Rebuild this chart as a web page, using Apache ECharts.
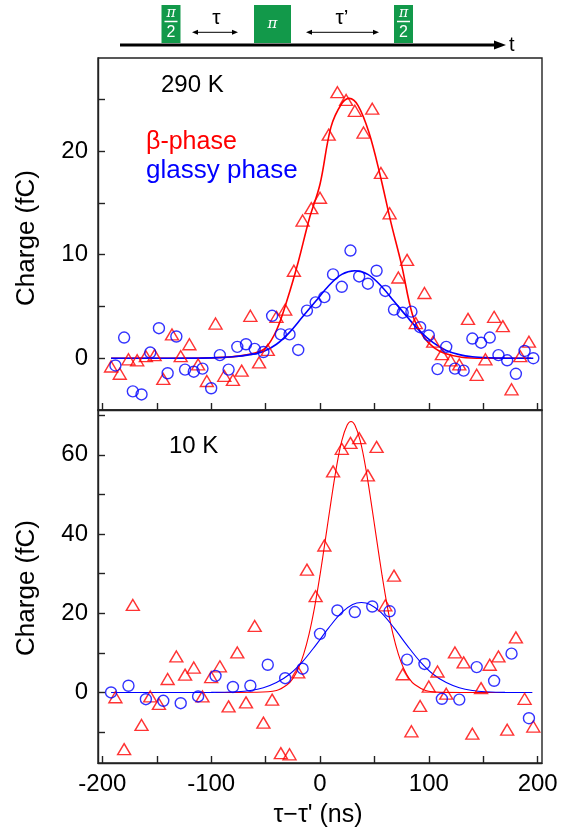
<!DOCTYPE html>
<html><head><meta charset="utf-8">
<script src="https://cdn.jsdelivr.net/npm/echarts@6/dist/echarts.min.js"></script>
<style>html,body{margin:0;padding:0;background:#fff}#c{width:568px;height:833px}</style>
</head><body><div id="c"></div>
<script>
const FONT = '"Liberation Sans", Arial, Helvetica, sans-serif';

// ---- data: 290 K panel ----
const topBetaX = [-192,-184,-176,-168,-160,-152,-144,-136,-128,-120,-112,-104,-96,-88,-80,-72,-64,-56,-48,-40,-32,-24,-16,-8,0,8,16,24,32,40,48,56,64,72,80,88,96,104,112,120,128,136,144,152,160,168,176,184,192];
const topBetaY = [-0.8,-1.5,-0.1,-0.2,0.2,0.3,-2.0,2.3,0.2,1.35,-0.6,-2.2,3.35,-1.7,-2.1,-1.2,4.1,-0.4,0.8,4.0,4.7,8.45,13.3,14.5,15.5,21.6,25.7,24.95,23.9,21.8,24.1,17.9,14.0,7.8,9.5,3.4,6.3,1.6,0.4,-0.2,-0.6,3.8,-1.6,-0.1,4.0,3.1,-3.0,0.2,1.6];
const topGlassyX = [-188,-180,-172,-164,-156,-148,-140,-132,-124,-116,-108,-100,-92,-84,-76,-68,-60,-52,-44,-36,-28,-20,-12,-4,4,12,20,28,36,44,52,60,68,76,84,92,100,108,116,124,132,140,148,156,164,172,180,188,196];
const topGlassyY = [-0.7,2.0,-3.2,-3.5,0.55,2.9,-1.45,2.1,-1.1,-1.3,-1.0,-2.9,0.3,-1.1,1.1,1.35,0.9,0.6,4.1,2.3,2.3,0.8,4.6,5.4,5.9,8.1,6.9,10.4,7.9,7.2,8.45,6.5,4.7,4.4,4.5,3.0,2.2,-1.05,1.1,-1.0,-1.2,1.9,1.5,2.0,0.3,-0.2,-1.5,0.7,0.0];
const topBetaFitX = [-192,-150,-110,-90,-75,-60,-50,-40,-30,-20,-10,0,10,20,27,35,45,55,65,75,85,95,105,115,130,150,194];
const topBetaFitY = [0,0,0.02,0.08,0.2,0.5,1.0,2.7,5.7,9.3,13.4,16.8,22.3,24.6,25.1,24.4,21.8,17.8,13.2,9.0,4.2,2.1,1.0,0.45,0.1,0,0];
const topGlassyFitX = [-192,-140,-100,-80,-64,-52,-40,-28,-16,-4,8,20,32,44,56,68,80,92,104,116,128,140,155,170,196];
const topGlassyFitY = [0,0,0.03,0.14,0.35,0.65,1.35,2.5,4.0,5.5,7.0,8.1,8.45,8.1,7.0,5.5,4.0,2.6,1.5,0.75,0.35,0.15,0.05,0.01,0];

// ---- data: 10 K panel ----
const botBetaX = [-188,-180,-172,-164,-156,-148,-140,-132,-124,-116,-108,-100,-92,-84,-76,-68,-60,-52,-44,-36,-28,-20,-12,-4,4,12,20,28,36,44,52,60,68,76,84,92,100,108,116,124,132,140,148,156,164,172,180,188,196];
const botBetaY = [-1.2,-14.3,22.1,-8.2,-1.0,-2.9,3.4,9.1,4.5,6.3,-1.0,3.9,6.6,-3.5,10.1,-2.5,16.8,-7.6,-1.8,-15.3,-15.6,5.05,31.0,24.3,37.1,55.8,61.5,63.0,64.2,54.8,62.0,22.0,29.5,4.6,-9.8,-3.4,1.5,5.3,-0.3,10.1,7.6,-10.4,1.1,7.0,9.1,-9.4,13.9,-1.6,-8.6];
const botGlassyX = [-192,-176,-160,-144,-128,-112,-96,-80,-64,-48,-32,-16,0,16,32,48,64,80,96,112,128,144,160,176,192];
const botGlassyY = [0,1.7,-1.7,-2.1,-2.7,-1.0,4.2,1.4,1.7,7.0,3.6,6.0,14.8,20.7,20.3,21.7,20.5,8.3,7.2,-1.6,-1.8,6.4,2.95,9.8,-6.5];
const botBetaFitX = [-96,-60,-40,-30,-25,-20,-15,-10,-5,0,5,10,15,20,25,28.5,32,37,42,47,52,57,62,67,72,77,82,87,97,107,130,195];
const botBetaFitY = [0,0.05,0.5,2.0,3.5,6.0,9.7,14.8,21.5,29.6,38.7,48.0,56.7,63.5,67.5,68.4,67.5,63.5,56.7,48.0,38.7,29.6,21.5,14.8,9.7,6.0,3.5,2.0,0.5,0.1,0,0];
const botGlassyFitX = [-192,-120,-100,-76,-64,-52,-40,-28,-16,-4,8,20,30,38,46,56,68,80,92,104,116,128,140,152,170,195];
const botGlassyFitY = [0,0,0.02,0.2,0.5,1.2,2.5,4.6,7.8,11.9,16.3,20.2,22.2,22.7,22.2,20.2,16.3,11.9,7.8,4.6,2.5,1.2,0.5,0.2,0.02,0];

// ---- axes ticks / labels ----
const xTicks = [-200,-150,-100,-50,0,50,100,150,200];
const xLabels = [-200,-100,0,100,200];
const topYTicks = [0,5,10,15,20,25];
const topYLabels = [0,10,20];
const botYTicks = [-10,0,10,20,30,40,50,60,70];
const botYLabels = [0,20,40,60];

const RED = '#ff0000', BLUE = '#0000ff', GREEN = '#12994a', AX = '#222';
const zip = (a, b) => a.map((v, i) => [v, b[i]]);

function xAxisCfg(gi, showLabel) {
  return {
    gridIndex: gi, type: 'value', min: -204, max: 204,
    axisLine: {show: true, onZero: false, lineStyle: {color: AX, width: 1.4}},
    axisTick: {show: true, inside: true, length: 7, customValues: xTicks, lineStyle: {color: AX, width: 1.4}},
    axisLabel: {show: showLabel, customValues: xLabels, fontSize: 24, fontFamily: FONT, color: '#000', margin: 9},
    splitLine: {show: false}
  };
}
function yAxisCfg(gi, mn, mx, ticks, labels) {
  return {
    gridIndex: gi, type: 'value', min: mn, max: mx,
    axisLine: {show: true, onZero: false, lineStyle: {color: AX, width: 1.4}},
    axisTick: {show: true, inside: true, length: 7, customValues: ticks, lineStyle: {color: AX, width: 1.4}},
    axisLabel: {show: true, customValues: labels, fontSize: 24, fontFamily: FONT, color: '#000', margin: 10},
    splitLine: {show: false}
  };
}
function scat(name, xi, data, sym, size, color) {
  return {name, type: 'scatter', xAxisIndex: xi, yAxisIndex: xi, data, symbol: sym, symbolSize: size, z: 5,
    itemStyle: {color: 'rgba(255,255,255,0)', borderColor: color, borderWidth: 1.4}};
}
function fit(name, xi, data, color, w) {
  return {name, type: 'line', xAxisIndex: xi, yAxisIndex: xi, data, showSymbol: false, smooth: 0.35, z: 3,
    lineStyle: {color, width: w}};
}

function txt(x, y, text, size, color, extra) {
  return {type: 'text', x, y, style: Object.assign({text, fontSize: size, fontFamily: FONT, fill: color, align: 'left', verticalAlign: 'middle'}, extra || {})};
}
function halfPulse(cx) {
  return [
    {type: 'rect', shape: {x: cx - 9.5, y: 5, width: 19, height: 38}, style: {fill: GREEN}},
    {type: 'text', x: cx, y: 13.5, style: {text: 'π', fontSize: 14, fontStyle: 'italic', fontFamily: '"DejaVu Serif", serif', fill: '#fff', align: 'center', verticalAlign: 'middle'}},
    {type: 'line', shape: {x1: cx - 6.5, y1: 21.5, x2: cx + 6.5, y2: 21.5}, style: {stroke: '#fff', lineWidth: 1.5}},
    {type: 'text', x: cx, y: 33, style: {text: '2', fontSize: 16, fontFamily: FONT, fill: '#fff', align: 'center', verticalAlign: 'middle'}}
  ];
}
function dblArrow(x1, x2, y) {
  return [
    {type: 'line', shape: {x1: x1 + 3, y1: y, x2: x2 - 3, y2: y}, style: {stroke: '#000', lineWidth: 1}},
    {type: 'polygon', shape: {points: [[x1, y], [x1 + 6, y - 2.5], [x1 + 6, y + 2.5]]}, style: {fill: '#000'}},
    {type: 'polygon', shape: {points: [[x2, y], [x2 - 6, y - 2.5], [x2 - 6, y + 2.5]]}, style: {fill: '#000'}}
  ];
}

const graphics = [].concat(
  [{type: 'line', shape: {x1: 120, y1: 45, x2: 497, y2: 45}, style: {stroke: '#000', lineWidth: 3}},
   {type: 'polygon', shape: {points: [[494, 40.5], [506, 45], [494, 49.5]]}, style: {fill: '#000'}},
   txt(509, 45, 't', 20, '#000')],
  halfPulse(171), halfPulse(403.5),
  [{type: 'rect', shape: {x: 254, y: 5, width: 37, height: 38}, style: {fill: GREEN}},
   {type: 'text', x: 272.5, y: 24, style: {text: 'π', fontSize: 15, fontStyle: 'italic', fontFamily: '"DejaVu Serif", serif', fill: '#fff', align: 'center', verticalAlign: 'middle'}}],
  dblArrow(192, 238, 32.3), dblArrow(306, 379, 32.3),
  [txt(216.5, 18, 'τ', 21, '#000', {align: 'center'}), txt(342, 18, 'τ’', 21, '#000', {align: 'center'})],
  [txt(161, 85, '290 K', 24, '#000'),
   txt(146, 142, 'β-phase', 25, RED),
   txt(146, 171, 'glassy phase', 26, BLUE),
   txt(169, 446, '10 K', 24, '#000'),
   {type: 'text', x: 27, y: 238, rotation: Math.PI / 2, style: {text: 'Charge (fC)', fontSize: 26, fontFamily: FONT, fill: '#000', align: 'center', verticalAlign: 'middle'}},
   {type: 'text', x: 27, y: 588, rotation: Math.PI / 2, style: {text: 'Charge (fC)', fontSize: 26, fontFamily: FONT, fill: '#000', align: 'center', verticalAlign: 'middle'}},
   txt(318, 815, 'τ−τ\' (ns)', 25, '#000', {align: 'center'})]
);

const chart = echarts.init(document.getElementById('c'), null, {renderer: 'canvas'});
chart.setOption({
  animation: false,
  backgroundColor: '#fff',
  grid: [
    {left: 98, top: 58, width: 444, height: 352, show: true, borderColor: AX, borderWidth: 1.4, backgroundColor: 'transparent'},
    {left: 98, top: 410, width: 444, height: 353, show: true, borderColor: AX, borderWidth: 1.4, backgroundColor: 'transparent'}
  ],
  xAxis: [xAxisCfg(0, false), xAxisCfg(1, true)],
  yAxis: [yAxisCfg(0, -5, 29, topYTicks, topYLabels), yAxisCfg(1, -17.8, 71.3, botYTicks, botYLabels)],
  series: [
    fit('β fit 290K', 0, zip(topBetaFitX, topBetaFitY), RED, 1.6),
    fit('glassy fit 290K', 0, zip(topGlassyFitX, topGlassyFitY), BLUE, 1.6),
    scat('β-phase 290K', 0, zip(topBetaX, topBetaY), 'triangle', [13, 11], RED),
    scat('glassy 290K', 0, zip(topGlassyX, topGlassyY), 'circle', 11, BLUE),
    fit('β fit 10K', 1, zip(botBetaFitX, botBetaFitY), RED, 1.1),
    fit('glassy fit 10K', 1, zip(botGlassyFitX, botGlassyFitY), BLUE, 1.1),
    scat('β-phase 10K', 1, zip(botBetaX, botBetaY), 'triangle', [13, 11], RED),
    scat('glassy 10K', 1, zip(botGlassyX, botGlassyY), 'circle', 11, BLUE)
  ],
  graphic: graphics
});
</script>
</body></html>
